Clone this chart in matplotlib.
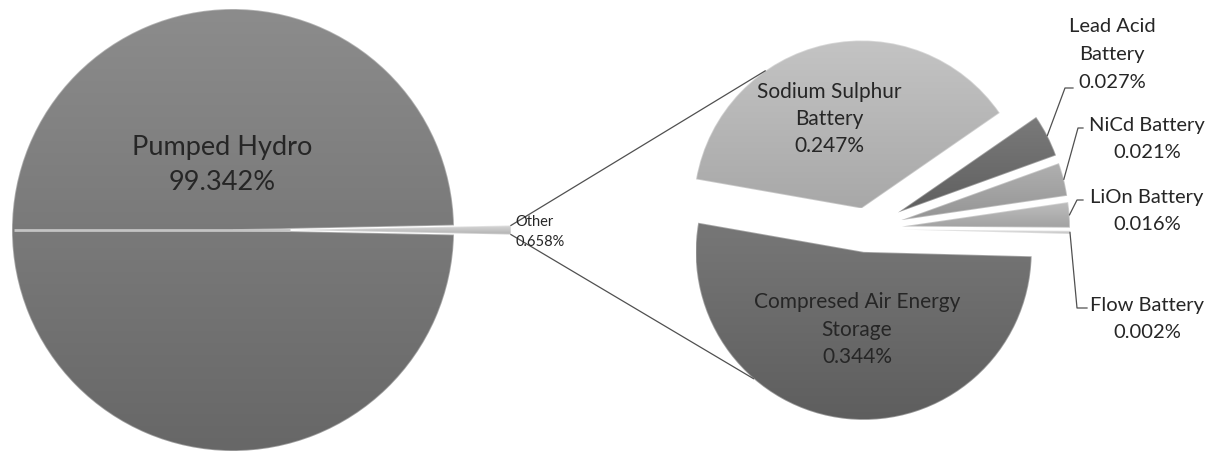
import numpy as np
import matplotlib.pyplot as plt
from matplotlib.colors import LinearSegmentedColormap

W, H = 1211, 454

# data
main_labels = ['Pumped Hydro', 'Other']
main_values = [99.342, 0.658]
sub_labels = ['Flow Battery', 'LiOn Battery', 'NiCd Battery', 'Lead Acid\nBattery',
              'Sodium Sulphur\nBattery', 'Compresed Air Energy\nStorage']
sub_values = [0.002, 0.016, 0.021, 0.027, 0.247, 0.344]

# styling / layout
main_top = ['#8c8c8c', '#d8d8d8']
main_bot = ['#676767', '#b0b0b0']
sub_top = ['#dadada', '#bdbdbd', '#b0b0b0', '#7a7a7a', '#c4c4c4', '#777777']
sub_bot = ['#c4c4c4', '#a2a2a2', '#959595', '#5f5f5f', '#a8a8a8', '#5e5e5e']
sub_explode = [36, 36, 36, 36, 21, 23]
txt = '#262626'
plt.rcParams['font.family'] = ['Lato', 'DejaVu Sans']

fig = plt.figure(figsize=(W / 100, H / 100), dpi=100)
ax = fig.add_axes([0, 0, 1, 1])

c1, r1 = (233, 224), 221
c2, r2 = (866, 225), 168

start1 = main_values[1] / sum(main_values) * 360 / 2
w1, _ = ax.pie(main_values, center=c1, radius=r1, startangle=start1,
               explode=[0, 57], counterclock=True)
w2, _ = ax.pie(sub_values, center=c2, radius=r2, startangle=-1.5,
               explode=sub_explode, counterclock=True)


def shade(w, ctop, cbot):
    bb = w.get_path().get_extents()
    cmap = LinearSegmentedColormap.from_list('g', [cbot, ctop])
    grad = np.linspace(0, 1, 256).reshape(-1, 1)
    im = ax.imshow(grad, cmap=cmap, origin='lower', aspect='auto',
                   extent=(bb.x0, bb.x1, bb.y0, bb.y1), zorder=2,
                   interpolation='bilinear')
    im.set_clip_path(w)
    w.set_facecolor('none')
    w.set_edgecolor((1, 1, 1, 0.35))
    w.set_linewidth(1.2)
    w.set_zorder(3)


for w, a, b in zip(w1, main_top, main_bot):
    shade(w, a, b)
for w, a, b in zip(w2, sub_top, sub_bot):
    shade(w, a, b)

# light seam through the big pie up to the exploded "Other" slice
oth = w1[1]
ax.plot([c1[0] - r1 + 2, oth.center[0]], [oth.center[1], oth.center[1]],
        color='#c4c4c4', lw=2, zorder=4, solid_capstyle='butt')


def edge_pt(w, ang):
    a = np.radians(ang)
    return w.center[0] + w.r * np.cos(a), w.center[1] + w.r * np.sin(a)


# series lines from "Other" to the second pie
p_top = edge_pt(oth, oth.theta2)
p_bot = edge_pt(oth, oth.theta1)
q_top = edge_pt(w2[4], 125)
q_bot = edge_pt(w2[5], 229)
ax.plot([p_top[0], q_top[0]], [p_top[1], q_top[1]], color='#505050', lw=0.9, zorder=5)
ax.plot([p_bot[0], q_bot[0]], [p_bot[1], q_bot[1]], color='#505050', lw=0.9, zorder=5)


def put(x, y, s, size, step, ha='center'):
    lines = s.split('\n')
    for i, ln in enumerate(lines):
        ax.text(x, H - y - i * step, ln, ha=ha, va='center', fontsize=size,
                color=txt, zorder=6)


put(222, 147, main_labels[0] + '\n%.3f%%' % main_values[0], 19.5, 36)
put(515, 222, main_labels[1] + '\n%.3f%%' % main_values[1], 10.5, 20, ha='left')

put(829, 92, sub_labels[4] + '\n%.3f%%' % sub_values[4], 15, 27)
put(857, 302, sub_labels[5] + '\n%.3f%%' % sub_values[5], 15, 27.5)

# outside labels with leader lines
lab_pos = {0: (1147, 305), 1: (1147, 197), 2: (1147, 125), 3: (1112, 27)}
elbows = {0: [(1077, 308), (1087, 308)], 1: [(1077, 200), (1083, 200)],
          2: [(1078, 128), (1083, 128)], 3: [(1065, 88), (1073, 88)]}
for i in range(4):
    x, y = lab_pos[i]
    put(x, y, sub_labels[i] + '\n%.3f%%' % sub_values[i], 14.5, 27.5)
    w = w2[i]
    tip = edge_pt(w, (w.theta1 + w.theta2) / 2)
    xs = [tip[0]] + [e[0] for e in elbows[i]]
    ys = [tip[1]] + [H - e[1] for e in elbows[i]]
    ax.plot(xs, ys, color='#505050', lw=0.9, zorder=5)

ax.set_xlim(0, W)
ax.set_ylim(0, H)
ax.set_aspect('equal')
ax.axis('off')
fig.savefig('out.png', dpi=100, facecolor='white')
